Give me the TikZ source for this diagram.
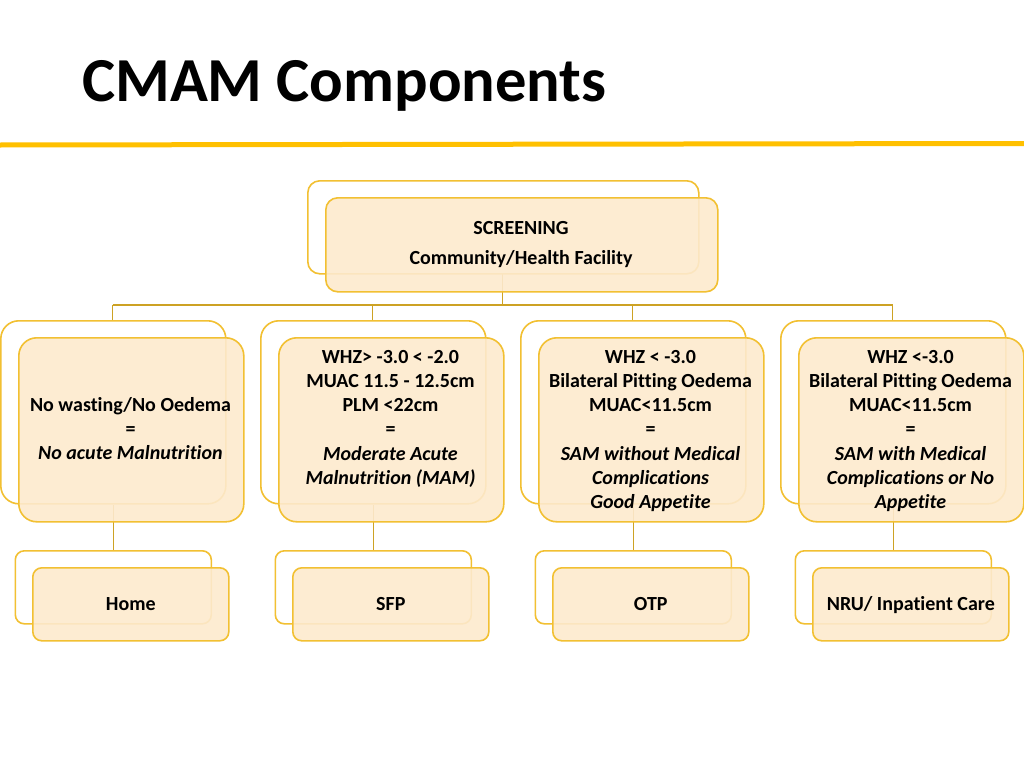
\documentclass[tikz,border=0pt]{standalone}
\usepackage{fontspec}
\setmainfont[Ligatures=NoCommon]{Carlito}
\definecolor{gold}{RGB}{242,192,50}
\definecolor{linegold}{RGB}{205,162,36}
\definecolor{boxfill}{RGB}{253,234,206}
\definecolor{titlebar}{RGB}{255,192,0}
\begin{document}
\begin{tikzpicture}[x=1pt,y=-1pt,
  backbox/.style={draw=gold,line width=1.6pt,fill=white,inner sep=0pt,anchor=north west},
  frontbox/.style={draw=gold,line width=1.6pt,fill=boxfill,fill opacity=0.9,text opacity=1,inner sep=0pt,anchor=north west},
  conn/.style={draw=linegold,line width=1.5pt},
  txt/.style={font=\fontsize{20}{24.3}\selectfont\bfseries,inner sep=0pt,anchor=base},
  leaf/.style={frontbox,font=\fontsize{20}{24.3}\selectfont\bfseries,text height=12.6pt,text depth=0pt}
]
\useasboundingbox (0,0) rectangle (1024,768);
\fill[white] (0,0) rectangle (1024,768);

% title
\node[anchor=base west,inner sep=0pt,font=\fontsize{62.6}{70}\selectfont\bfseries] (title) at (82,101) {CMAM Components};
\draw[titlebar,line width=5pt] (0,145) -- (1024,143.5);

% connectors
\coordinate (hbar) at (0,305);
\coordinate (topc) at (502.5,273);
\coordinate (b1c) at (112.5,320);
\coordinate (b2c) at (372.5,320);
\coordinate (b3c) at (632.5,320);
\coordinate (b4c) at (892.5,320);
\draw[conn] (topc) -- (topc |- hbar);
\draw[conn] (b1c |- hbar) -- (b4c |- hbar);
\foreach \i in {1,2,3,4}{
  \draw[conn] (b\i c |- hbar) -- (b\i c);
}

% top box
\node[backbox,rounded corners=12pt,minimum width=391pt,minimum height=93pt] (topback) at (307,180) {};
\node[frontbox,rounded corners=12pt,minimum width=392pt,minimum height=94pt] (topfront) at (325,197) {};
\node[txt] (toptext) at (521,234) {\parbox[t]{380pt}{\centering SCREENING\\[6.5pt] Community/Health Facility}};

% level 2 back boxes
\foreach \i/\x in {1/0,2/260,3/520,4/780}{
  \node[backbox,rounded corners=18pt,minimum width=225pt,minimum height=183pt] (b\i back) at (\x,320) {};
}
% level 3 back boxes
\foreach \i/\x in {1/14.5,2/274.5,3/534.5,4/794.5}{
  \node[backbox,rounded corners=9pt,minimum width=196pt,minimum height=73pt] (c\i back) at (\x,550) {};
}
% level 2 -> level 3 connectors
\foreach \i in {1,2,3,4}{
  \draw[conn] (b\i back.south) -- (c\i back.north);
}
% level 2 front boxes
\foreach \i/\x in {1/18,2/278,3/538,4/798}{
  \node[frontbox,rounded corners=18pt,minimum width=225pt,minimum height=184pt] (b\i front) at (\x,337) {};
}
\node[txt] (t1) at (130.5,411) {\parbox[t]{225pt}{\centering No wasting/No Oedema\\ =\\ \itshape No acute Malnutrition}};
\node[txt] (t2) at (390.5,363) {\parbox[t]{225pt}{\centering WHZ> -3.0 < -2.0\\ MUAC 11.5 - 12.5cm\\ PLM <22cm\\ =\\ {\itshape Moderate Acute\\ Malnutrition (MAM)}}};
\node[txt] (t3) at (650.5,363) {\parbox[t]{225pt}{\centering WHZ < -3.0\\ Bilateral Pitting Oedema\\ MUAC<11.5cm\\ =\\ {\itshape SAM without Medical\\ Complications\\ Good Appetite}}};
\node[txt] (t4) at (910.5,363) {\parbox[t]{225pt}{\centering WHZ <-3.0\\ Bilateral Pitting Oedema\\ MUAC<11.5cm\\ =\\ {\itshape SAM with Medical\\ Complications or No\\ Appetite}}};

% level 3 front boxes
\node[leaf,rounded corners=9pt,minimum width=196pt,minimum height=73pt] (c1front) at (32,567) {};
\node[leaf,rounded corners=9pt,minimum width=196pt,minimum height=73pt] (c2front) at (292,567) {};
\node[leaf,rounded corners=9pt,minimum width=196pt,minimum height=73pt] (c3front) at (552,567) {};
\node[leaf,rounded corners=9pt,minimum width=196pt,minimum height=73pt] (c4front) at (812,567) {};
\node[txt,anchor=base] (l1) at (c1front.center) [yshift=-6.3pt] {Home};
\node[txt,anchor=base] (l2) at (c2front.center) [yshift=-6.3pt] {SFP};
\node[txt,anchor=base] (l3) at (c3front.center) [yshift=-6.3pt] {OTP};
\node[txt,anchor=base] (l4) at (c4front.center) [yshift=-6.3pt] {NRU/ Inpatient Care};
\end{tikzpicture}
\end{document}
